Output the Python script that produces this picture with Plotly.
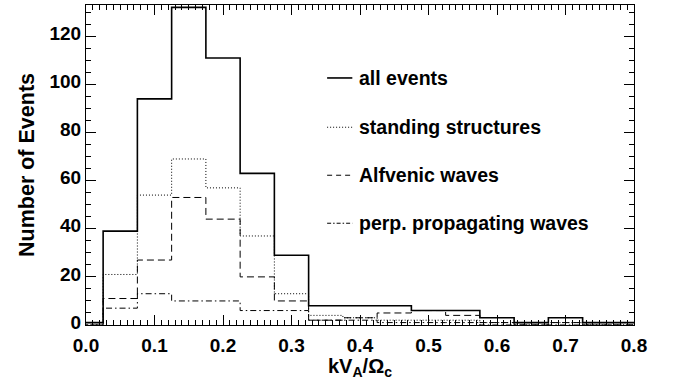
import numpy as np
import plotly.graph_objects as go

# bin centres (kV_A/Omega_c), bin width 0.05
bin_centers = [0.00, 0.05, 0.10, 0.15, 0.20, 0.25, 0.30, 0.35, 0.40, 0.45,
               0.50, 0.55, 0.60, 0.65, 0.70, 0.75, 0.80]
all_events = [1, 39, 94, 132, 111, 63, 29, 8, 8, 8, 6, 6, 3, 1, 3, 1, 1]
standing = [0, 21, 54, 69, 57, 37, 13, 4, 3, 2, 2, 2, 1, 0, 1, 0, 0]
alfvenic = [0, 11, 27, 53, 44, 20, 10, 2, 3, 5, 6, 4, 1, 0, 1, 0, 0]
perp = [0, 7, 13, 10, 10, 6, 6, 2, 2, 1, 1, 1, 0, 0, 0, 0, 0]

series_names = ["all events", "standing structures", "Alfvenic waves",
                "perp. propagating waves"]
series_values = [all_events, standing, alfvenic, perp]
dashes = ["solid", "1px,2px", "7px,4px", "6px,3px,1.5px,3px"]
widths = [1.6, 1.0, 1.0, 1.0]

FONT = "Liberation Sans, Arial, sans-serif"
bw = 0.05
c = np.array(bin_centers)
edges = np.concatenate([c - bw / 2, [c[-1] + bw / 2]])

fig = go.Figure()
for name, vals, d, w in zip(series_names, series_values, dashes, widths):
    yv = list(vals) + [vals[-1]]
    fig.add_trace(go.Scatter(x=edges, y=yv, mode="lines", line_shape="hv",
                             line=dict(color="black", width=w, dash=d),
                             name=name, showlegend=False, cliponaxis=True))

# legend drawn manually (paper coordinates)
leg_y = [0.772, 0.618, 0.468, 0.318]
leg_dashes = ["solid", "1px,2px", "5px,4px", "4px,2px,1.5px,2px"]
for name, d, w, yy in zip(series_names, leg_dashes, widths, leg_y):
    fig.add_shape(type="line", xref="paper", yref="paper", x0=0.44, x1=0.486,
                  y0=yy, y1=yy, line=dict(color="black", width=w, dash=d))
    fig.add_annotation(xref="paper", yref="paper", x=0.495, y=yy, text="<b>%s</b>" % name,
                       showarrow=False, xanchor="left", yanchor="middle",
                       font=dict(family=FONT, size=19.5, color="black"))

axis_common = dict(showline=True, linecolor="black", linewidth=1.2, mirror="ticks",
                   ticks="inside", ticklen=10, tickwidth=1, tickcolor="black",
                   showgrid=False, zeroline=False,
                   tickfont=dict(family=FONT, size=19, color="black"))

xt = [0.0, 0.1, 0.2, 0.3, 0.4, 0.5, 0.6, 0.7, 0.8]
yt = [0, 20, 40, 60, 80, 100, 120]
fig.update_xaxes(range=[0, 0.8],
                 tickvals=xt, ticktext=["<b>%.1f</b>" % v for v in xt],
                 ticklabelstandoff=3,
                 minor=dict(dtick=0.01, tick0=0, ticks="inside", ticklen=5,
                            tickcolor="black", tickwidth=1),
                 title=dict(text="<b>kV<sub>A</sub>/Ω<sub>c</sub></b>",
                            font=dict(family=FONT, size=20, color="black"), standoff=2),
                 **axis_common)
fig.update_yaxes(range=[0, 133],
                 tickvals=yt, ticktext=["<b>%d</b>" % v for v in yt],
                 ticklabelshift=-3,
                 minor=dict(dtick=5, tick0=0, ticks="inside", ticklen=5,
                            tickcolor="black", tickwidth=1),
                 title=dict(text="<b>Number of Events</b>",
                            font=dict(family=FONT, size=21.5, color="black"), standoff=8),
                 **axis_common)

fig.update_layout(width=679, height=380, margin=dict(l=86, r=45, t=5, b=55),
                  plot_bgcolor="white", paper_bgcolor="white", showlegend=False)

fig.write_html("out.html")
